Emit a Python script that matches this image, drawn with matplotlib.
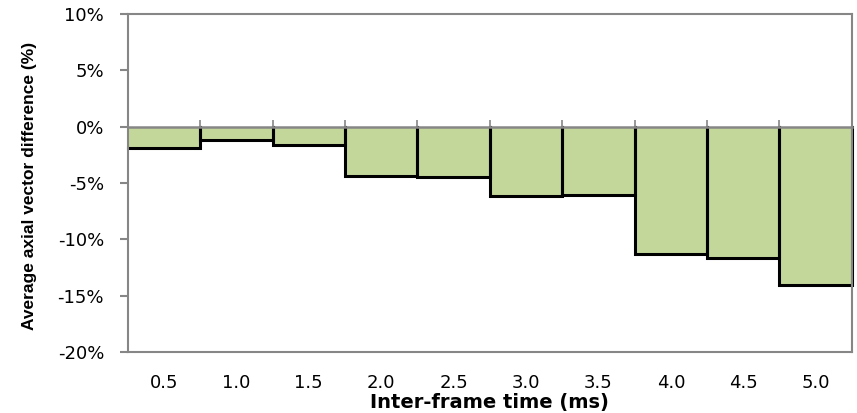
import matplotlib
matplotlib.use("Agg")
import matplotlib.pyplot as plt
import numpy as np

# inter-frame time (ms) and average axial vector difference (%)
frame_times = ["0.5", "1.0", "1.5", "2.0", "2.5", "3.0", "3.5", "4.0", "4.5", "5.0"]
avg_diff = [-1.9, -1.2, -1.6, -4.4, -4.5, -6.2, -6.1, -11.3, -11.7, -14.1]

y_ticks = [-20, -15, -10, -5, 0, 5, 10]

BAR_GREEN = "#c4d79b"
AXIS_GRAY = "#868686"


def main():
    fig = plt.figure(figsize=(8.57, 4.13), dpi=100)
    ax = fig.add_axes([0.149, 0.148, 0.845, 0.818])

    x = np.arange(len(frame_times))
    ax.bar(x, avg_diff, width=1.0, color=BAR_GREEN, edgecolor="none", zorder=2)
    # dark outline on the sides and bottom of every bar (first bar sits on the spine)
    for i, (xi, v) in enumerate(zip(x, avg_diff)):
        if i == 0:
            xs, ys = [xi - 0.5, xi + 0.5, xi + 0.5], [v, v, 0]
        else:
            xs, ys = [xi - 0.5, xi - 0.5, xi + 0.5, xi + 0.5], [0, v, v, 0]
        ax.plot(xs, ys, color="black", lw=2.2, solid_joinstyle="miter", zorder=3, clip_on=False)

    ax.set_xlim(-0.5, len(frame_times) - 0.5)
    ax.set_ylim(-20, 10)
    ax.set_yticks(y_ticks)
    ax.set_yticklabels([f"{v}%" for v in y_ticks])
    ax.set_xticks(x)
    ax.set_xticklabels(frame_times)

    for s in ax.spines.values():
        s.set_color(AXIS_GRAY)
        s.set_linewidth(1.5)
        s.set_zorder(4)
    ax.tick_params(axis="y", color=AXIS_GRAY, length=6, width=1.5, labelsize=13, pad=11)
    ax.tick_params(axis="x", length=0, labelsize=13, pad=16)

    # zero line with category-boundary ticks
    zero = ax.secondary_xaxis((0 + 20) / 30)
    zero.set_xticks(np.arange(len(frame_times) + 1) - 0.5)
    zero.set_xticklabels([])
    zero.spines["top"].set_color(AXIS_GRAY)
    zero.spines["top"].set_linewidth(1.8)
    zero.tick_params(color=AXIS_GRAY, length=5, width=1.2)
    zero.set_zorder(5)

    ax.set_xlabel("Inter-frame time (ms)", fontsize=14, fontweight="bold", labelpad=1)
    ax.set_ylabel("Average axial vector difference (%)", fontsize=12.5, fontweight="bold",
                  family="Liberation Sans")
    ax.yaxis.set_label_coords(-0.125, 0.49)

    fig.savefig("out.png", dpi=100)


if __name__ == "__main__":
    main()
